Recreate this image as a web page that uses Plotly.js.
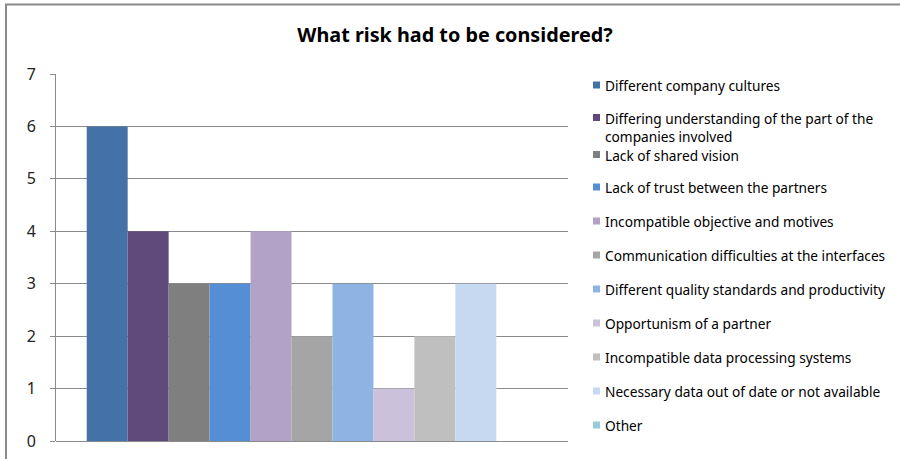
<!DOCTYPE html>
<html>
<head>
<meta charset="utf-8">
<script src="https://cdn.plot.ly/plotly-3.0.1.min.js"></script>
<style>
  html, body { margin: 0; padding: 0; background: #ffffff; }
  #chart { width: 900px; height: 459px; }
</style>
</head>
<body>
<div id="chart"></div>
<script>
// Survey answers: how many respondents named each risk
const riskNames = [
  "Different company cultures",
  "Differing understanding of the part of the<br>companies involved",
  "Lack of shared vision",
  "Lack of trust between the partners",
  "Incompatible objective and motives",
  "Communication difficulties at the interfaces",
  "Different quality standards and productivity",
  "Opportunism of a partner",
  "Incompatible data processing systems",
  "Necessary data out of date or not available",
  "Other"
];
const riskCounts = [6, 4, 3, 3, 4, 2, 3, 1, 2, 3, 0];
const riskColors = [
  "#4472A8", "#604A7B", "#7F7F7F", "#558ED5", "#B3A2C7", "#A5A5A5",
  "#8EB4E3", "#CCC1DA", "#BFBFBF", "#C6D9F1", "#93CDDD"
];
const category = ["Risks"];
const yTicks = [0, 1, 2, 3, 4, 5, 6, 7];

// plot-area geometry in pixels
const M = { l: 56, r: 332, t: 74, b: 18 };
const FIG_W = 900, FIG_H = 459;
const PW = FIG_W - M.l - M.r, PH = FIG_H - M.t - M.b;
const px = x => (x - M.l) / PW;              // pixel x -> paper x
const py = y => (FIG_H - M.b - y) / PH;      // pixel y -> paper y

const FONT = "'Noto Sans', 'Open Sans', 'DejaVu Sans', sans-serif";
const AXIS_GREY = "#8a8a8a";

const traces = riskNames.map((name, i) => ({
  type: "bar",
  name: name.replace("<br>", " "),
  x: category,
  y: [riskCounts[i]],
  marker: { color: riskColors[i], line: { width: 0 } },
  showlegend: false,
  hoverinfo: "name+y"
}));

// legend drawn beside the plot: colour key + label for each series;
// the wrapped second entry sits a little higher and the one below it a
// little lower so their lines do not collide
const legendTop = 85, legendStep = 34;
const legendNudge = [0, -1.5, 1.5, 0, 0, 0, 0, 0, 0, 0, 0];
const shapes = [];
const annotations = [];
riskNames.forEach((name, i) => {
  const cy = legendTop + i * legendStep + legendNudge[i];
  shapes.push({
    type: "rect", xref: "paper", yref: "paper",
    x0: px(593), x1: px(600), y0: py(cy + 3.5), y1: py(cy - 3.5),
    fillcolor: riskColors[i], line: { width: 0 }
  });
  annotations.push({
    xref: "paper", yref: "paper",
    x: px(603), y: py(cy - 11),
    xanchor: "left", yanchor: "top", align: "left",
    showarrow: false, text: name,
    font: { family: FONT, size: 13.7, color: "#000000" }
  });
});

// chart frame
shapes.push({
  type: "rect", xref: "paper", yref: "paper",
  x0: px(6), x1: px(910), y0: py(480), y1: py(4.5),
  line: { color: AXIS_GREY, width: 2 }, fillcolor: "rgba(0,0,0,0)",
  layer: "below"
});

const layout = {
  width: FIG_W, height: FIG_H,
  margin: M,
  paper_bgcolor: "#ffffff",
  plot_bgcolor: "#ffffff",
  font: { family: FONT, color: "#222222" },
  title: {
    text: "What risk had to be considered?",
    font: { family: FONT, size: 19.8, weight: "bold", color: "#000000" },
    xref: "paper", x: px(455), xanchor: "center",
    yref: "container", y: 1 - 35 / FIG_H, yanchor: "middle"
  },
  barmode: "group",
  bargap: 0.12,
  bargroupgap: 0,
  showlegend: false,
  xaxis: {
    type: "category",
    showticklabels: false,
    showgrid: false,
    showline: false,
    zeroline: false,
    ticks: ""
  },
  yaxis: {
    range: [0, 7],
    tickvals: yTicks,
    ticktext: yTicks.map(String),
    showgrid: true,
    gridcolor: AXIS_GREY,
    gridwidth: 1,
    showline: true,
    linecolor: AXIS_GREY,
    linewidth: 1,
    zeroline: true,
    zerolinecolor: AXIS_GREY,
    zerolinewidth: 1,
    ticks: "outside",
    ticklen: 5,
    tickcolor: AXIS_GREY,
    ticklabelstandoff: 11,
    tickfont: { family: FONT, size: 16, color: "#222222" },
    fixedrange: true
  },
  shapes: shapes,
  annotations: annotations
};

Plotly.newPlot("chart", traces, layout, { displayModeBar: false, staticPlot: true });
</script>
</body>
</html>
